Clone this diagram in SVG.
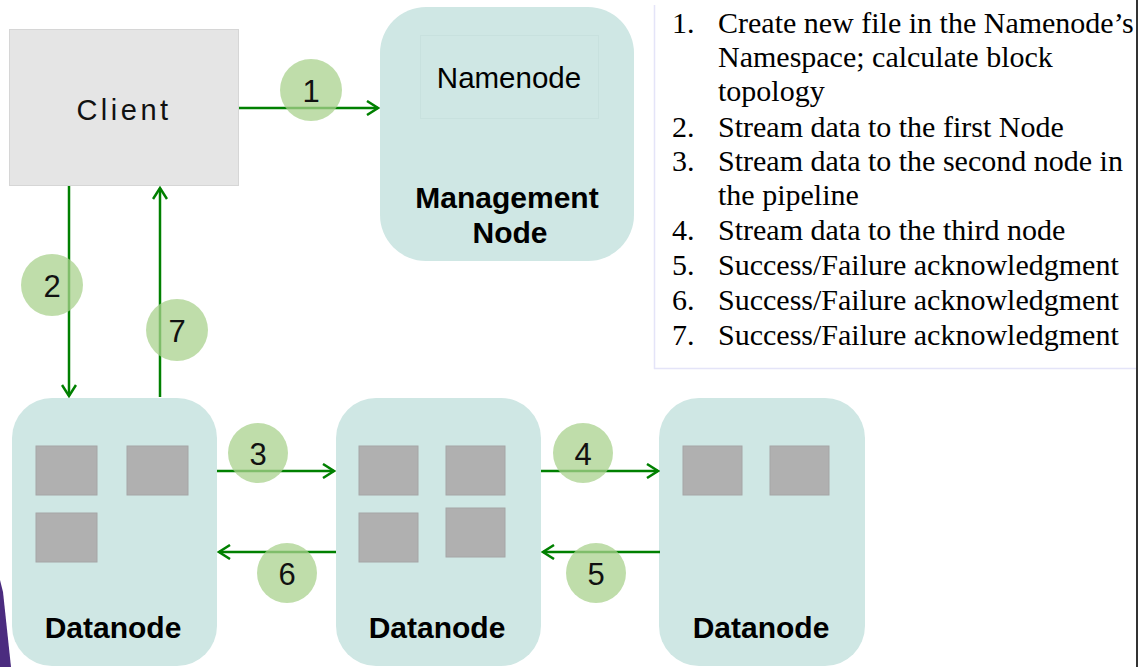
<svg xmlns="http://www.w3.org/2000/svg" width="1146" height="667" viewBox="0 0 1146 667">
<defs>
<marker id="ah" markerWidth="14" markerHeight="16" refX="12" refY="8" orient="auto" markerUnits="userSpaceOnUse">
<path d="M1,1 L12,8 L1,15" fill="none" stroke="#008000" stroke-width="2.5"/>
</marker>
<style>
.node{fill:#cfe7e4;}
.blk{fill:#b0b0b0;stroke:#a6a6a6;stroke-width:1;}
.lbl{font-family:"Liberation Sans",Arial,sans-serif;font-weight:bold;font-size:30px;fill:#000;text-anchor:middle;}
.conn{stroke:#008000;stroke-width:2.5;fill:none;marker-end:url(#ah);}
.badge{fill:#a9d18e;fill-opacity:0.75;}
.num{font-family:"Liberation Sans",Arial,sans-serif;font-size:31px;fill:#111;text-anchor:middle;}
.lst{font-family:"Liberation Serif","Times New Roman",serif;font-size:30px;fill:#000;}
</style>
</defs>
<rect width="1146" height="667" fill="#fff"/>
<polygon points="0,580 3,592 11,667 0,667" fill="#4b2c7f"/>
<g id="legend">
<path d="M654.5,5 V368.5 H1136" fill="none" stroke="#e4e4f8" stroke-width="1.5"/>
<line x1="1137" y1="0" x2="1137" y2="667" stroke="#333" stroke-width="2"/>
<text class="lst"><tspan x="672" y="33">1.</tspan><tspan x="718" y="33">Create new file in the Namenode’s</tspan><tspan x="718" y="67">Namespace; calculate block</tspan><tspan x="718" y="101">topology</tspan><tspan x="672" y="137">2.</tspan><tspan x="718" y="137">Stream data to the first Node</tspan><tspan x="672" y="171">3.</tspan><tspan x="718" y="171">Stream data to the second node in</tspan><tspan x="718" y="205">the pipeline</tspan><tspan x="672" y="240">4.</tspan><tspan x="718" y="240">Stream data to the third node</tspan><tspan x="672" y="275">5.</tspan><tspan x="718" y="275">Success/Failure acknowledgment</tspan><tspan x="672" y="310">6.</tspan><tspan x="718" y="310">Success/Failure acknowledgment</tspan><tspan x="672" y="345">7.</tspan><tspan x="718" y="345">Success/Failure acknowledgment</tspan></text>
</g>
<g id="client">
<rect x="9.5" y="29.5" width="229" height="156" fill="#e5e5e5" stroke="#d6d6d6" stroke-width="1"/>
<text x="124" y="120" font-family="'Liberation Sans',Arial,sans-serif" font-size="29" letter-spacing="3.5" text-anchor="middle" fill="#111">Client</text>
</g>
<g id="management-node">
<rect x="380" y="7" width="254" height="254" rx="46" class="node"/>
<rect x="420.5" y="35.5" width="178" height="83" fill="none" stroke="#c8e1de" stroke-width="1"/>
<text x="509" y="88" font-family="'Liberation Sans',Arial,sans-serif" font-size="29.5" text-anchor="middle" fill="#000">Namenode</text>
<text x="507" y="208" class="lbl">Management</text>
<text x="510" y="243" class="lbl">Node</text>
</g>
<g id="datanode-1">
<rect x="12" y="398" width="205" height="268" rx="40" class="node"/>
<rect x="36" y="446" width="61" height="49" class="blk"/>
<rect x="127" y="446" width="61" height="49" class="blk"/>
<rect x="36" y="513" width="61" height="49" class="blk"/>
<text x="113" y="638" class="lbl">Datanode</text>
</g>
<g id="datanode-2">
<rect x="336" y="398" width="205" height="268" rx="40" class="node"/>
<rect x="359" y="446" width="59" height="49" class="blk"/>
<rect x="446" y="446" width="59" height="49" class="blk"/>
<rect x="359" y="513" width="59" height="49" class="blk"/>
<rect x="446" y="508" width="59" height="49" class="blk"/>
<text x="437" y="638" class="lbl">Datanode</text>
</g>
<g id="datanode-3">
<rect x="659" y="398" width="206" height="268" rx="40" class="node"/>
<rect x="683" y="446" width="59" height="49" class="blk"/>
<rect x="770" y="446" width="59" height="49" class="blk"/>
<text x="761" y="638" class="lbl">Datanode</text>
</g>
<g id="connectors">
<line x1="239" y1="108" x2="378" y2="108" class="conn"/>
<line x1="69" y1="186" x2="69" y2="396" class="conn"/>
<line x1="160" y1="397" x2="160" y2="188" class="conn"/>
<line x1="217" y1="471" x2="334" y2="471" class="conn"/>
<line x1="336" y1="552" x2="219" y2="552" class="conn"/>
<line x1="541" y1="471" x2="658" y2="471" class="conn"/>
<line x1="660" y1="552" x2="543" y2="552" class="conn"/>
</g>
<g id="badges">
<circle cx="311" cy="90" r="31" class="badge"/><text x="311" y="102" class="num">1</text>
<circle cx="52" cy="285" r="31" class="badge"/><text x="52" y="297" class="num">2</text>
<circle cx="177" cy="330" r="31" class="badge"/><text x="177" y="342" class="num">7</text>
<circle cx="258" cy="453" r="30" class="badge"/><text x="258" y="465" class="num">3</text>
<circle cx="287" cy="573" r="30" class="badge"/><text x="287" y="585" class="num">6</text>
<circle cx="583" cy="453" r="30" class="badge"/><text x="583" y="465" class="num">4</text>
<circle cx="596" cy="573" r="30" class="badge"/><text x="596" y="585" class="num">5</text>
</g>
</svg>
